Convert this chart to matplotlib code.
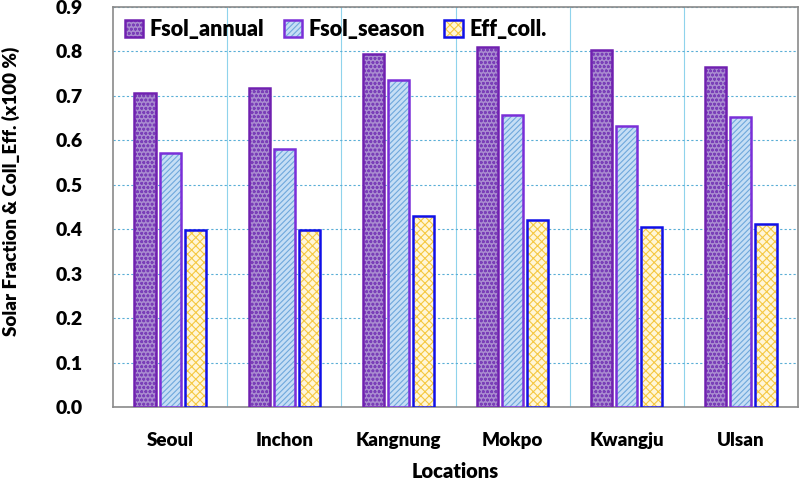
import matplotlib
matplotlib.use("Agg")
import matplotlib.pyplot as plt
import numpy as np
from matplotlib.legend_handler import HandlerTuple

locations = ["Seoul", "Inchon", "Kangnung", "Mokpo", "Kwangju", "Ulsan"]
fsol_annual = [0.706, 0.718, 0.795, 0.809, 0.802, 0.764]
fsol_season = [0.572, 0.581, 0.735, 0.656, 0.631, 0.652]
eff_coll = [0.398, 0.398, 0.430, 0.420, 0.404, 0.411]
series_names = ["Fsol_annual", "Fsol_season", "Eff_coll."]
yticks = [0.0, 0.1, 0.2, 0.3, 0.4, 0.5, 0.6, 0.7, 0.8, 0.9]

plt.rcParams['font.family'] = ['Lato', 'DejaVu Sans']
plt.rcParams['hatch.linewidth'] = 0.8

fig = plt.figure(figsize=(8.02, 4.91), dpi=100)
ax = fig.add_axes([0.141, 0.171, 0.854, 0.815])

x = np.arange(len(locations))
width = 0.185
offsets = [-0.22, 0.0, 0.22]
styles = [
    dict(fc="#a98bd0", hc="#7a3fb8", hatch="oooo", ec="#7020b0"),
    dict(fc="#c6def5", hc="#6fa8dc", hatch="//////", ec="#7a2fd8"),
    dict(fc="#fff6d8", hc="#f5c842", hatch="xxxx", ec="#1010e8"),
]
handles = []
for vals, off, st, name in zip([fsol_annual, fsol_season, eff_coll], offsets, styles, series_names):
    b1 = ax.bar(x + off, vals, width, color=st["fc"], edgecolor=st["hc"], hatch=st["hatch"],
                linewidth=0, zorder=3)
    b2 = ax.bar(x + off, vals, width, facecolor="none", edgecolor=st["ec"], linewidth=1.8, zorder=4)
    handles.append((b1, b2))

ax.set_xlim(-0.5, len(locations) - 0.5)
ax.set_ylim(0, 0.9)
ax.set_yticks(yticks)
ax.set_yticklabels([f"{v:.1f}" for v in yticks])
ax.set_xticks(x)
ax.set_xticklabels(locations)
ax.set_xticks(np.arange(len(locations) - 1) + 0.5, minor=True)
ax.tick_params(axis='both', which='both', length=0)
ax.tick_params(axis='x', pad=18, labelsize=13.5)
ax.tick_params(axis='y', pad=22, labelsize=14)
for lbl in ax.get_xticklabels() + ax.get_yticklabels():
    lbl.set_fontweight('heavy')

ax.grid(axis='y', which='major', color="#5aaed6", linestyle=(0, (2, 2)), linewidth=0.8, zorder=0)
ax.grid(axis='x', which='minor', color="#8fd3ec", linestyle='-', linewidth=0.8, zorder=0)
ax.grid(axis='x', which='major', visible=False)

for s in ax.spines.values():
    s.set_color("#8a8a8a")
    s.set_linewidth(1.2)

ax.set_xlabel("Locations", fontsize=14.5, fontweight='heavy', labelpad=9)
ax.set_ylabel("Solar Fraction & Coll_Eff. (x100 %)", fontsize=13.5, fontweight='heavy')
ax.yaxis.set_label_coords(-0.1355, 0.54)

leg = ax.legend(handles, series_names, handler_map={tuple: HandlerTuple(ndivide=1)},
                loc='upper left', ncol=3, frameon=False,
                prop={'weight': 'heavy', 'size': 15.5}, handlelength=0.85, handleheight=0.85,
                handletextpad=0.3, columnspacing=0.9, bbox_to_anchor=(0.0, 1.0),
                borderaxespad=0.15)

fig.savefig("out.png", dpi=100)
